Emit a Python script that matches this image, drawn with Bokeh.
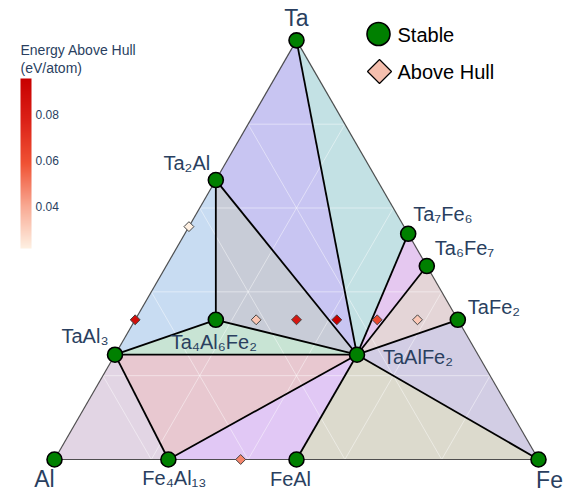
import numpy as np
from bokeh.plotting import figure
from bokeh.models import ColumnDataSource, LinearColorMapper, ColorBar, FixedTicker, Label, Range1d
from bokeh.core.properties import value
from bokeh.embed import file_html
from bokeh.resources import INLINE

# ---------------- data: compositions as atomic fractions (Ta, Al, Fe) ----------------
stable_names = ["Ta", "Al", "Fe", "Ta2Al", "TaAl3", "Ta4Al6Fe2", "TaAlFe2",
                "Ta7Fe6", "Ta6Fe7", "TaFe2", "Fe4Al13", "FeAl"]
stable_labels = ["Ta", "Al", "Fe", "Ta₂Al", "TaAl₃", "Ta₄Al₆Fe₂", "TaAlFe₂",
                 "Ta₇Fe₆", "Ta₆Fe₇", "TaFe₂", "Fe₄Al₁₃", "FeAl"]
stable_ta = [1, 0, 0, 2/3, 1/4, 1/3, 1/4, 7/13, 6/13, 1/3, 0, 0]
stable_al = [0, 1, 0, 1/3, 3/4, 1/2, 1/4, 0, 0, 0, 13/17, 1/2]
stable_fe = [0, 0, 1, 0, 0, 1/6, 1/2, 6/13, 7/13, 2/3, 4/17, 1/2]

unstable_names = ["Ta5Al4", "TaAl2", "Ta4Al5Fe3", "TaAlFe", "Ta4Al3Fe5",
                  "Ta2AlFe3", "Ta4AlFe7", "Fe5Al8"]
unstable_ta = [5/9, 1/3, 1/3, 1/3, 1/3, 1/3, 1/3, 0]
unstable_al = [4/9, 2/3, 5/12, 1/3, 1/4, 1/6, 1/12, 8/13]
unstable_fe = [0, 0, 1/4, 1/3, 5/12, 1/2, 7/12, 5/13]
e_above_hull = [0.0217, 0.088, 0.033, 0.083, 0.0957, 0.063, 0.032, 0.048]

facets = [
    ("Ta", "Ta2Al", "TaAlFe2"),
    ("Ta", "TaAlFe2", "Ta7Fe6"),
    ("Ta7Fe6", "TaAlFe2", "Ta6Fe7"),
    ("Ta6Fe7", "TaAlFe2", "TaFe2"),
    ("TaFe2", "TaAlFe2", "Fe"),
    ("TaAlFe2", "FeAl", "Fe"),
    ("TaAlFe2", "Fe4Al13", "FeAl"),
    ("TaAl3", "TaAlFe2", "Fe4Al13"),
    ("TaAl3", "Ta4Al6Fe2", "TaAlFe2"),
    ("Ta2Al", "Ta4Al6Fe2", "TaAlFe2"),
    ("Ta2Al", "TaAl3", "Ta4Al6Fe2"),
    ("Al", "TaAl3", "Fe4Al13"),
]
facet_colors = ["#c8c5f2", "#c3e1e4", "#e5c8f0", "#e4d5d7", "#d2cde4", "#dcdacd",
                "#e1c8f5", "#e8c8d0", "#c8e4d4", "#c8ccd7", "#c8dcf2", "#e2d5e4"]

grid_fracs = [0.2, 0.4, 0.6, 0.8]
cbar_ticks = [0.04, 0.06, 0.08]

# ---------------- helpers ----------------
S3 = np.sqrt(3) / 2
def cart(ta, al, fe):
    return fe + ta / 2, ta * S3

comp = {n: (t, a, f) for n, t, a, f in zip(stable_names, stable_ta, stable_al, stable_fe)}
sx, sy = zip(*[cart(*comp[n]) for n in stable_names])
ux, uy = zip(*[cart(t, a, f) for t, a, f in zip(unstable_ta, unstable_al, unstable_fe)])

SCALE = 484.0  # pixels per unit
W, H = 583, 499
OX, OY = 54.0, 40.0  # pixel position of the Al corner (from left / from bottom)

p = figure(width=W, height=H, output_backend="svg", toolbar_location=None,
           x_range=Range1d(-OX / SCALE, (W - OX) / SCALE),
           y_range=Range1d(-OY / SCALE, (H - OY) / SCALE),
           min_border=0, x_axis_location=None, y_axis_location=None,
           outline_line_color=None, background_fill_color="white",
           border_fill_color="white")
p.grid.visible = False

# facets
fxs, fys = [], []
for f in facets:
    pts = [cart(*comp[n]) for n in f]
    fxs.append([q[0] for q in pts])
    fys.append([q[1] for q in pts])
p.patches(fxs, fys, fill_color=facet_colors, fill_alpha=1.0, line_color=None)

# ternary grid
gxs, gys = [], []
for g in grid_fracs:
    for a, b in [((g, 1 - g, 0), (g, 0, 1 - g)),
                 ((1 - g, g, 0), (0, g, 1 - g)),
                 ((1 - g, 0, g), (0, 1 - g, g))]:
        x0, y0 = cart(*a); x1, y1 = cart(*b)
        gxs.append([x0, x1]); gys.append([y0, y1])
p.multi_line(gxs, gys, line_color="white", line_alpha=0.45, line_width=1)

# facet edges
edges = set()
for f in facets:
    for i in range(3):
        e = tuple(sorted((f[i], f[(i + 1) % 3])))
        edges.add(e)
ixs, iys, bxs, bys = [], [], [], []
for a, b in sorted(edges):
    ca, cb = comp[a], comp[b]
    boundary = any(ca[k] == 0 and cb[k] == 0 for k in range(3))
    x0, y0 = cart(*ca); x1, y1 = cart(*cb)
    if boundary:
        bxs.append([x0, x1]); bys.append([y0, y1])
    else:
        ixs.append([x0, x1]); iys.append([y0, y1])
p.multi_line(bxs, bys, line_color="#333333", line_width=1.2, line_alpha=0.85)
p.multi_line(ixs, iys, line_color="black", line_width=1.8)

# colour scale
anchors = [(0.0, (254, 240, 226)), (0.25, (248, 168, 146)), (0.5, (240, 82, 52)),
           (0.75, (220, 34, 24)), (1.0, (200, 0, 0))]
palette = []
for t in np.linspace(0, 1, 256):
    for (t0, c0), (t1, c1) in zip(anchors[:-1], anchors[1:]):
        if t0 <= t <= t1:
            w = (t - t0) / (t1 - t0)
            c = [int(round(c0[k] + w * (c1[k] - c0[k]))) for k in range(3)]
            palette.append("#%02x%02x%02x" % tuple(c))
            break
mapper = LinearColorMapper(palette=palette, low=min(e_above_hull), high=max(e_above_hull))

usrc = ColumnDataSource(dict(x=ux, y=uy, e=e_above_hull, name=unstable_names))
p.scatter("x", "y", source=usrc, marker="square", angle=np.pi / 4, size=7,
          fill_color={"field": "e", "transform": mapper}, line_color="#444444", line_width=1)

ssrc = ColumnDataSource(dict(x=sx, y=sy, name=stable_names))
p.scatter("x", "y", source=ssrc, marker="circle", size=15, fill_color="green",
          line_color="black", line_width=1.6)

# labels (offsets in pixels: dx, dy(down, to text middle), align, size)
label_style = {
    "Ta": (0, -22, "center", 23), "Al": (-10, 19, "center", 23), "Fe": (11, 20, "center", 23),
    "Ta2Al": (-29, -17, "center", 20), "TaAl3": (-30, -19, "center", 20),
    "Ta4Al6Fe2": (-2, 22, "center", 20), "TaAlFe2": (26, 2, "left", 20),
    "Ta7Fe6": (5, -20, "left", 20), "Ta6Fe7": (8, -18, "left", 20),
    "TaFe2": (10, -13, "left", 20), "Fe4Al13": (6, 18, "center", 20),
    "FeAl": (-6, 19, "center", 20),
}
for n, lab, x, y in zip(stable_names, stable_labels, sx, sy):
    dx, dy, al, fs = label_style[n]
    p.text([x], [y], text=[lab], x_offset=dx, y_offset=dy, text_align=al,
           text_baseline="middle", text_font=value("Liberation Sans"),
           text_font_size="%dpx" % fs, text_color="#2a3f5f")

# colour bar
cbar = ColorBar(color_mapper=mapper, ticker=FixedTicker(ticks=cbar_ticks),
                location=(20, 251), width=11, height=170, padding=0,
                label_standoff=4, major_label_text_font_size="12px",
                major_label_text_font="Liberation Sans",
                major_label_text_color="#2a3f5f", major_tick_line_color=None,
                minor_tick_line_color=None, bar_line_color=None,
                background_fill_alpha=0, border_line_color=None)
p.add_layout(cbar)
for txt, yy in [("Energy Above Hull", 450), ("(eV/atom)", 432)]:
    p.add_layout(Label(x=20, y=yy, x_units="screen", y_units="screen", text=txt,
                       text_font_size="14px", text_font="Liberation Sans",
                       text_color="#2a3f5f", text_baseline="middle"))

# legend (manual)
def px2data(px, py):
    return (px - OX) / SCALE, (H - OY - py) / SCALE
lx, ly = px2data(378, 33.5)
p.scatter([lx], [ly], marker="circle", size=23, fill_color="green",
          line_color="black", line_width=1.6)
lx, ly = px2data(379, 71)
p.scatter([lx], [ly], marker="square", angle=np.pi / 4, size=17, fill_color="#f5bfae",
          line_color="black", line_width=1.2)
for txt, yy in [("Stable", 465), ("Above Hull", 428)]:
    p.add_layout(Label(x=397, y=yy, x_units="screen", y_units="screen", text=txt,
                       text_font_size="20px", text_font="Liberation Sans",
                       text_color="black", text_baseline="middle"))

open("out.html", "w").write(file_html(p, INLINE))
